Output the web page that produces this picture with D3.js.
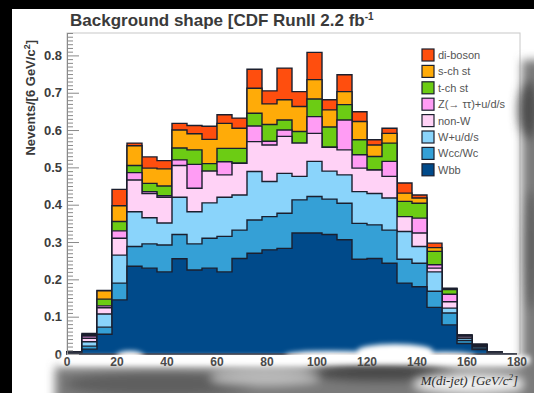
<!DOCTYPE html>
<html>
<head>
<meta charset="utf-8">
<script src="https://cdn.jsdelivr.net/npm/d3@7"></script>
<style>
  body { margin: 0; background: #000; }
  svg { display: block; }
  text { font-family: "Liberation Sans", Arial, sans-serif; }
</style>
</head>
<body>
<div id="container"></div>
<script>

// Bin edges in GeV (6 GeV bins, 0 - 180)
var binWidth = 6;
var binCount = 30;

// Stacked background components, one value per bin (Nevents / 6 GeV)
var wbb  = [0.004,0.013,0.053,0.145,0.235,0.230,0.220,0.255,0.225,0.230,0.220,0.256,0.270,0.279,0.283,0.324,0.324,0.320,0.306,0.254,0.256,0.243,0.190,0.180,0.125,0.078,0.028,0.012,0.003,0];
var wcc  = [0.001,0.008,0.019,0.045,0.053,0.065,0.072,0.065,0.070,0.080,0.095,0.076,0.089,0.089,0.094,0.089,0.098,0.095,0.098,0.096,0.090,0.089,0.064,0.063,0.043,0.032,0.008,0.004,0.001,0];
var wuds = [0.001,0.012,0.035,0.075,0.093,0.070,0.059,0.100,0.086,0.095,0.105,0.094,0.130,0.094,0.107,0.063,0.094,0.075,0.076,0.085,0.084,0.086,0.074,0.045,0.052,0.013,0.006,0.004,0.001,0];
var nonW = [0,0.009,0.017,0.045,0.085,0.065,0.069,0.085,0.063,0.085,0.060,0.085,0.080,0.098,0.099,0.089,0.075,0.064,0.067,0.063,0.063,0.058,0.040,0.036,0.010,0.017,0.004,0.003,0,0];
var ztt  = [0,0.006,0.005,0.020,0.020,0.005,0.004,0.015,0.064,0,0.035,0,0.042,0.010,0.017,0,0.045,0,0.080,0.036,0,0.040,0,0.040,0.009,0.020,0.002,0.001,0,0];
var tch  = [0,0.002,0.018,0.025,0.019,0.022,0.026,0.032,0.039,0.020,0.036,0.040,0.034,0.045,0.027,0.031,0.047,0.054,0.041,0.040,0.036,0.049,0.041,0.040,0.036,0.013,0.002,0.001,0,0];
var sch  = [0,0.003,0.022,0.042,0.053,0.041,0.046,0.048,0.043,0.065,0.067,0.054,0.067,0.055,0.054,0.067,0.052,0.046,0.035,0.049,0.031,0.026,0.022,0.014,0.010,0.002,0.001,0.001,0,0];
var dib  = [0,0.002,0.001,0.044,0.007,0.030,0.022,0.018,0.022,0.035,0.023,0.027,0.051,0.035,0.085,0.040,0.073,0.027,0.045,0.026,0.014,0.014,0.027,0.008,0.012,0.001,0,0,0,0];

// Stack order, bottom first
var keys   = ["Wbb", "Wcc/Wc", "W+u/d/s", "non-W", "Z(\u2192 \u03c4\u03c4)+u/d/s", "t-ch st", "s-ch st", "di-boson"];
var series = [wbb, wcc, wuds, nonW, ztt, tch, sch, dib];
var colors = ["#004a8a", "#35a0d6", "#8ad4fb", "#ffd2f6", "#ff9cf4", "#6ccc14", "#ffab08", "#ff4e0e"];

var xTicks = [0, 20, 40, 60, 80, 100, 120, 140, 160, 180];
var yTicks = [0, 0.1, 0.2, 0.3, 0.4, 0.5, 0.6, 0.7, 0.8];

var width = 534, height = 393;

var svg = d3.select("#container").append("svg")
    .attr("width", width)
    .attr("height", height);

var defs = svg.append("defs");
defs.append("filter").attr("id", "blur").attr("x", "-50%").attr("y", "-50%").attr("width", "200%").attr("height", "200%")
    .append("feGaussianBlur").attr("stdDeviation", 5);
defs.append("filter").attr("id", "blurSmall").attr("x", "-50%").attr("y", "-50%").attr("width", "200%").attr("height", "200%")
    .append("feGaussianBlur").attr("stdDeviation", 2.5);

// Paper
svg.append("rect").attr("width", width).attr("height", height).attr("fill", "#000");
svg.append("rect").attr("x", 12).attr("y", 9).attr("width", width - 12).attr("height", height - 9).attr("fill", "#fff");

// Scales
var x = d3.scaleLinear().domain([0, 181.2]).range([67, 520]);
var y = d3.scaleLinear().domain([0, 0.86]).range([354, 33]);

// Table for d3.stack
var rows = d3.range(binCount).map(function(i) {
    var row = { lo: i * binWidth, hi: (i + 1) * binWidth };
    keys.forEach(function(k, j) { row[k] = series[j][i]; });
    return row;
});
var stacked = d3.stack().keys(keys)(rows);

// Frame
var plot = svg.append("g");
plot.append("rect")
    .attr("x", x(0)).attr("y", y(0.86))
    .attr("width", x(181.2) - x(0)).attr("height", y(0) - y(0.86))
    .attr("fill", "none").attr("stroke", "#c8c8c8").attr("stroke-width", 1);

// Step areas: draw the cumulative sums from the top one down, like a THStack
var area = d3.area()
    .x(function(p) { return x(p[0]); })
    .y0(y(0))
    .y1(function(p) { return y(p[1]); });

for (var j = stacked.length - 1; j >= 0; j--) {
    var pts = [];
    stacked[j].forEach(function(d) {
        pts.push([d.data.lo, d[1]]);
        pts.push([d.data.hi, d[1]]);
    });
    plot.append("path")
        .attr("d", area(pts))
        .attr("fill", colors[j])
        .attr("stroke", "#1b1f2e")
        .attr("stroke-width", 1.4)
        .attr("stroke-linejoin", "miter");
}

// Y axis with ROOT-like inward ticks
var yAxis = d3.axisRight(y)
    .tickValues(d3.range(0, 0.861, 0.01))
    .tickSize(0)
    .tickFormat("");
var yg = plot.append("g").attr("transform", "translate(" + x(0) + ",0)").call(yAxis);
yg.select(".domain").attr("stroke", "#8a8a8a");
yg.selectAll(".tick line")
    .attr("stroke", "#8a8a8a")
    .attr("x2", function(d) { return Math.abs(d * 10 - Math.round(d * 10)) < 1e-6 ? 12 : 6; });

plot.selectAll(".ylab")
    .data(yTicks)
    .enter().append("text")
    .attr("class", "ylab")
    .attr("x", 62)
    .attr("y", function(d) { return y(d) + 4.5; })
    .attr("text-anchor", "end")
    .attr("font-size", 13)
    .attr("font-weight", "bold")
    .attr("fill", "#3c3c3c")
    .text(function(d) { return d === 0 ? "0" : d3.format(".1f")(d); });

// Smudges of the photocopy along the bottom and the right edge
var smudge = svg.append("g").attr("filter", "url(#blur)");
smudge.append("rect").attr("x", 55).attr("y", 367).attr("width", 490).attr("height", 40).attr("fill", "#7a7a7a");
smudge.append("ellipse").attr("cx", 160).attr("cy", 384).attr("rx", 95).attr("ry", 12).attr("fill", "#5e5e5e");
smudge.append("ellipse").attr("cx", 380).attr("cy", 372).attr("rx", 75).attr("ry", 10).attr("fill", "#4a4a4a");
smudge.append("ellipse").attr("cx", 265).attr("cy", 378).attr("rx", 55).attr("ry", 7).attr("fill", "#bdbdbd");
smudge.append("ellipse").attr("cx", 472).attr("cy", 384).attr("rx", 58).attr("ry", 9).attr("fill", "#f2f2f2");
smudge.append("rect").attr("x", 522).attr("y", 60).attr("width", 30).attr("height", 340).attr("fill", "#7a7a7a");
smudge.append("ellipse").attr("cx", 528).attr("cy", 110).attr("rx", 10).attr("ry", 30).attr("fill", "#4e4e4e");
smudge.append("ellipse").attr("cx", 530).attr("cy", 250).attr("rx", 8).attr("ry", 60).attr("fill", "#606060");

// White tears over the bottom of the bars
var tear = svg.append("g").attr("filter", "url(#blurSmall)").attr("fill", "#fff");
tear.append("rect").attr("x", 60).attr("y", 356).attr("width", 470).attr("height", 8);
tear.append("ellipse").attr("cx", 130).attr("cy", 356).attr("rx", 14).attr("ry", 5);
tear.append("ellipse").attr("cx", 330).attr("cy", 355).attr("rx", 45).attr("ry", 4);
tear.append("ellipse").attr("cx", 395).attr("cy", 351).attr("rx", 38).attr("ry", 7);
tear.append("ellipse").attr("cx", 445).attr("cy", 355).attr("rx", 30).attr("ry", 3);

// X tick labels
svg.selectAll(".xlab")
    .data(xTicks)
    .enter().append("text")
    .attr("class", "xlab")
    .attr("x", function(d) { return x(d); })
    .attr("y", 366)
    .attr("text-anchor", "middle")
    .attr("font-size", 12)
    .attr("font-weight", "bold")
    .attr("fill", "#4a4a4a")
    .text(function(d) { return d; });

// Axis titles
var xTitle = svg.append("text")
    .attr("x", 518).attr("y", 385)
    .attr("text-anchor", "end")
    .attr("font-style", "italic")
    .attr("font-size", 13)
    .attr("fill", "#2a2a2a")
    .style("font-family", "'Liberation Serif', serif");
xTitle.append("tspan").text("M(di-jet) [GeV/c");
xTitle.append("tspan").attr("dy", -5).attr("font-size", 9).text("2");
xTitle.append("tspan").attr("dy", 5).text("]");

var yTitle = svg.append("text")
    .attr("transform", "translate(35,40) rotate(-90)")
    .attr("text-anchor", "end")
    .attr("font-size", 13)
    .attr("font-weight", "bold")
    .attr("fill", "#3a3a3a");
yTitle.append("tspan").text("Nevents/[6 GeV/c");
yTitle.append("tspan").attr("dy", -5).attr("font-size", 9).text("2");
yTitle.append("tspan").attr("dy", 5).text("]");

// Title
var title = svg.append("text")
    .attr("x", 70).attr("y", 26)
    .attr("font-size", 17)
    .attr("font-weight", "bold")
    .attr("fill", "#3a3a3a");
title.append("tspan").text("Background shape [CDF RunII 2.2 fb");
title.append("tspan").attr("dy", -6).attr("font-size", 10).text("-1");

// Legend, top entry is the last stacked component
var legendKeys = keys.slice().reverse();
var legendColors = colors.slice().reverse();
var legend = svg.append("g");
var rowsL = legend.selectAll(".entry")
    .data(legendKeys)
    .enter().append("g")
    .attr("class", "entry")
    .attr("transform", function(d, i) { return "translate(422," + (49 + i * 16.4) + ")"; });
rowsL.append("rect")
    .attr("width", 12).attr("height", 12)
    .attr("fill", function(d, i) { return legendColors[i]; })
    .attr("stroke", "#1b1f2e").attr("stroke-width", 1.2);
rowsL.append("text")
    .attr("x", 16).attr("y", 10)
    .attr("font-size", 11)
    .attr("fill", "#555")
    .text(function(d) { return d; });

</script>
</body>
</html>
